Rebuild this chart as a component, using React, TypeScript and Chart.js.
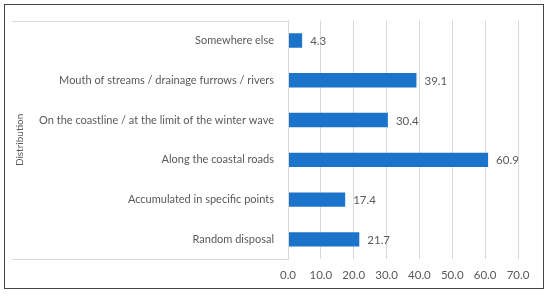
import React, { useEffect, useRef } from "react";
import { Chart, registerables } from "chart.js";

Chart.register(...registerables);

const categories = [
  "Somewhere else",
  "Mouth of streams / drainage furrows / rivers",
  "On the coastline / at the limit of the winter wave",
  "Along the coastal roads",
  "Accumulated in specific points",
  "Random disposal",
];
const values = [4.3, 39.1, 30.4, 60.9, 17.4, 21.7];
const axisTitle = "Distribution";
const xMin = 0;
const xMax = 70;
const xStep = 10;

const FONT = "Lato, 'Open Sans', sans-serif";
const TEXT = "#595959";
const GRID = "#d9d9d9";

const extrasPlugin = {
  id: "extras",
  afterDraw(chart: any) {
    const { ctx, chartArea } = chart;
    ctx.save();
    ctx.strokeStyle = GRID;
    ctx.lineWidth = 1;
    ctx.beginPath();
    ctx.moveTo(12, Math.round(chartArea.top) + 0.5);
    ctx.lineTo(chartArea.left, Math.round(chartArea.top) + 0.5);
    ctx.moveTo(12, Math.round(chartArea.bottom) + 0.5);
    ctx.lineTo(chartArea.left, Math.round(chartArea.bottom) + 0.5);
    ctx.moveTo(Math.round(chartArea.left) + 0.5, chartArea.top);
    ctx.lineTo(Math.round(chartArea.left) + 0.5, chartArea.bottom + 1);
    ctx.stroke();
    // data labels
    const meta = chart.getDatasetMeta(0);
    ctx.fillStyle = TEXT;
    ctx.font = `11.5px ${FONT}`;
    ctx.textAlign = "left";
    ctx.textBaseline = "middle";
    meta.data.forEach((bar: any, i: number) => {
      const v = chart.data.datasets[0].data[i] as number;
      ctx.fillText(v.toFixed(1), bar.x + 8, bar.y + 1);
    });
    ctx.restore();
  },
};

export default function App() {
  const ref = useRef<HTMLCanvasElement>(null);
  useEffect(() => {
    if (!ref.current) return;
    const chart = new Chart(ref.current, {
      type: "bar",
      data: {
        labels: categories,
        datasets: [
          {
            data: values,
            backgroundColor: "#1b74c9",
            borderWidth: 0,
            barPercentage: 0.72,
            categoryPercentage: 0.5,
          },
        ],
      },
      options: {
        indexAxis: "y",
        animation: false,
        responsive: false,
        maintainAspectRatio: false,
        layout: { padding: { top: 20, right: 32, bottom: 6, left: 0 } },
        plugins: {
          legend: { display: false },
          tooltip: { enabled: false },
        },
        scales: {
          x: {
            min: xMin,
            max: xMax,
            ticks: {
              stepSize: xStep,
              color: TEXT,
              font: { family: FONT, size: 11.5 },
              padding: 9,
              callback: (v: any) => Number(v).toFixed(1),
            },
            grid: { color: GRID, drawTicks: false },
            border: { display: false },
          },
          y: {
            ticks: {
              color: TEXT,
              font: { family: FONT, size: 11 },
              padding: 14,
            },
            grid: { display: false, drawTicks: false },
            border: { display: false },
            title: {
              display: true,
              text: axisTitle,
              color: TEXT,
              font: { family: FONT, size: 10 },
              padding: { top: 14, bottom: 0 },
            },
            afterFit: (scale: any) => {
              scale.width = 288;
            },
          },
        },
      },
      plugins: [extrasPlugin],
    });
    return () => chart.destroy();
  }, []);
  return (
    <div style={{ position: "absolute", left: 0, top: 0, width: 550, height: 297, background: "#fff" }}>
      <canvas ref={ref} width={550} height={297} style={{ display: "block" }} />
      <div
        style={{
          position: "absolute",
          left: 4,
          top: 4,
          width: 538,
          height: 283,
          border: "1.5px solid #444",
          pointerEvents: "none",
        }}
      />
    </div>
  );
}
